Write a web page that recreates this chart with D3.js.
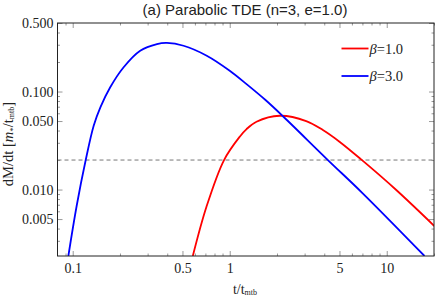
<!DOCTYPE html>
<html>
<head>
<meta charset="utf-8">
<script src="https://cdn.jsdelivr.net/npm/d3@7"></script>
<style>
  body { margin: 0; background: #fff; }
  svg { display: block; }
  .tick text { font-family: "Liberation Serif", "Times New Roman", serif; font-size: 14px; fill: #222; }
  .tick line { stroke: #999; }
  .domain { display: none; }
</style>
</head>
<body>
<script>
// values
var tBlue    = [0.0938, 0.106, 0.121, 0.136, 0.150, 0.173, 0.211, 0.269, 0.344, 0.398, 0.508, 0.714, 1.0, 1.28, 1.69, 2.20, 4.22, 7.03, 17.4];
var mdotBlue = [0.0021, 0.00684, 0.020, 0.0448, 0.069, 0.110, 0.177, 0.261, 0.305, 0.313, 0.293, 0.232, 0.163, 0.119, 0.0819, 0.0553, 0.020, 0.00915, 0.0021];
var tRed     = [0.582, 0.711, 0.92, 1.158, 1.28, 1.48, 2.08, 3.07, 3.92, 5.0, 6.87, 11.5, 20.1];
var mdotRed  = [0.0021, 0.00667, 0.020, 0.0346, 0.0414, 0.0492, 0.0566, 0.0500, 0.0405, 0.0308, 0.0203, 0.0099, 0.00425];
var dashLevel = 0.02;

var xMajor = [0.1, 0.5, 1, 5, 10];
var xMajorLabels = ["0.1", "0.5", "1", "5", "10"];
var xMinor = [0.09, 0.2, 0.3, 0.4, 0.6, 0.7, 0.8, 0.9, 2, 3, 4, 6, 7, 8, 9, 20];
var yMajor = [0.005, 0.01, 0.05, 0.1, 0.5];
var yMajorLabels = ["0.005", "0.010", "0.050", "0.100", "0.500"];
var yMinor = [0.003, 0.004, 0.006, 0.007, 0.008, 0.009, 0.02, 0.03, 0.04, 0.06, 0.07, 0.08, 0.09, 0.2, 0.3, 0.4];

var legendLabels = ["1.0", "3.0"];
var colors = ["#ff0000", "#0000ff"];

var W = 436, H = 300;
var pLeft = 57.5, pRight = 434, pTop = 23, pBottom = 256;

var svg = d3.select("body").append("svg")
  .attr("width", W)
  .attr("height", H);

/***Scales***/
var x = d3.scaleLog().domain([0.08, 20]).range([pLeft, pRight]);
var y = d3.scaleLog().domain([0.0021, 0.5]).range([pBottom, pTop]);

/***Axes (ticks point inward)***/
function fmt(vals, labels) {
  return function(d) { return labels[vals.indexOf(d)]; };
}
svg.append("g").attr("transform", "translate(0," + pBottom + ")")
  .call(d3.axisBottom(x).tickValues(xMajor).tickFormat(fmt(xMajor, xMajorLabels)).tickSize(-5).tickPadding(7));
svg.append("g").attr("transform", "translate(0," + pBottom + ")")
  .call(d3.axisBottom(x).tickValues(xMinor).tickFormat("").tickSize(-2.5));
svg.append("g").attr("transform", "translate(0," + pTop + ")")
  .call(d3.axisTop(x).tickValues(xMajor).tickFormat("").tickSize(-5));
svg.append("g").attr("transform", "translate(0," + pTop + ")")
  .call(d3.axisTop(x).tickValues(xMinor).tickFormat("").tickSize(-2.5));

svg.append("g").attr("transform", "translate(" + pLeft + ",0)")
  .call(d3.axisLeft(y).tickValues(yMajor).tickFormat(fmt(yMajor, yMajorLabels)).tickSize(-5).tickPadding(4));
svg.append("g").attr("transform", "translate(" + pLeft + ",0)")
  .call(d3.axisLeft(y).tickValues(yMinor).tickFormat("").tickSize(-2.5));
svg.append("g").attr("transform", "translate(" + pRight + ",0)")
  .call(d3.axisRight(y).tickValues(yMajor).tickFormat("").tickSize(-5));
svg.append("g").attr("transform", "translate(" + pRight + ",0)")
  .call(d3.axisRight(y).tickValues(yMinor).tickFormat("").tickSize(-2.5));

/***Clip***/
svg.append("clipPath").attr("id", "clip")
  .append("rect")
  .attr("x", pLeft).attr("y", pTop)
  .attr("width", pRight - pLeft).attr("height", pBottom - pTop);

var plot = svg.append("g").attr("clip-path", "url(#clip)");

/***Dashed reference line***/
plot.append("line")
  .attr("x1", pLeft).attr("x2", pRight)
  .attr("y1", y(dashLevel)).attr("y2", y(dashLevel))
  .attr("stroke", "#777")
  .attr("stroke-width", 1)
  .attr("stroke-dasharray", "4,3");

/***Curves***/
var line = d3.line()
  .curve(d3.curveCatmullRom.alpha(0.5))
  .x(function(d) { return x(d[0]); })
  .y(function(d) { return y(d[1]); });

var series = [d3.zip(tRed, mdotRed), d3.zip(tBlue, mdotBlue)];
series.forEach(function(s, i) {
  plot.append("path")
    .datum(s)
    .attr("fill", "none")
    .attr("stroke", colors[i])
    .attr("stroke-width", 1.8)
    .attr("d", line);
});

/***Frame***/
svg.append("rect")
  .attr("x", pLeft).attr("y", pTop)
  .attr("width", pRight - pLeft).attr("height", pBottom - pTop)
  .attr("fill", "none")
  .attr("stroke", "#222")
  .attr("stroke-width", 1);

/***Legend***/
var legend = svg.append("g");
legendLabels.forEach(function(lab, i) {
  var ly = 48.5 + i * 27.5;
  legend.append("line")
    .attr("x1", 341.5).attr("x2", 368.5)
    .attr("y1", ly).attr("y2", ly)
    .attr("stroke", colors[i])
    .attr("stroke-width", 1.8);
  var t = legend.append("text")
    .attr("x", 369.5).attr("y", ly + 5)
    .attr("font-family", "'Liberation Serif', 'Times New Roman', serif")
    .attr("font-size", 14.5)
    .attr("fill", "#222");
  t.append("tspan").attr("font-style", "italic").text("β");
  t.append("tspan").text("=" + lab);
});

/***Title***/
svg.append("text")
  .attr("x", 245).attr("y", 15)
  .attr("text-anchor", "middle")
  .attr("font-family", "'Liberation Sans', Arial, sans-serif")
  .attr("font-size", 15)
  .attr("fill", "#222")
  .text("(a) Parabolic TDE (n=3, e=1.0)");

/***Axis labels***/
var xl = svg.append("text")
  .attr("x", 245).attr("y", 294)
  .attr("text-anchor", "middle")
  .attr("font-family", "'Liberation Serif', 'Times New Roman', serif")
  .attr("font-size", 14)
  .attr("fill", "#222");
xl.append("tspan").text("t/t");
xl.append("tspan").attr("font-size", 8).attr("dy", 1).text("mtb");

var yl = svg.append("text")
  .attr("transform", "translate(13,144) rotate(-90)")
  .attr("text-anchor", "middle")
  .attr("font-family", "'Liberation Serif', 'Times New Roman', serif")
  .attr("font-size", 14.5)
  .attr("fill", "#222");
yl.append("tspan").text("dM/dt [");
yl.append("tspan").attr("font-style", "italic").text("m");
yl.append("tspan").attr("font-size", 9).attr("dy", 3).text("*");
yl.append("tspan").attr("dy", -3).text("/t");
yl.append("tspan").attr("font-size", 8).attr("dy", 1).text("mtb");
yl.append("tspan").attr("dy", -1).text("]");
</script>
</body>
</html>
